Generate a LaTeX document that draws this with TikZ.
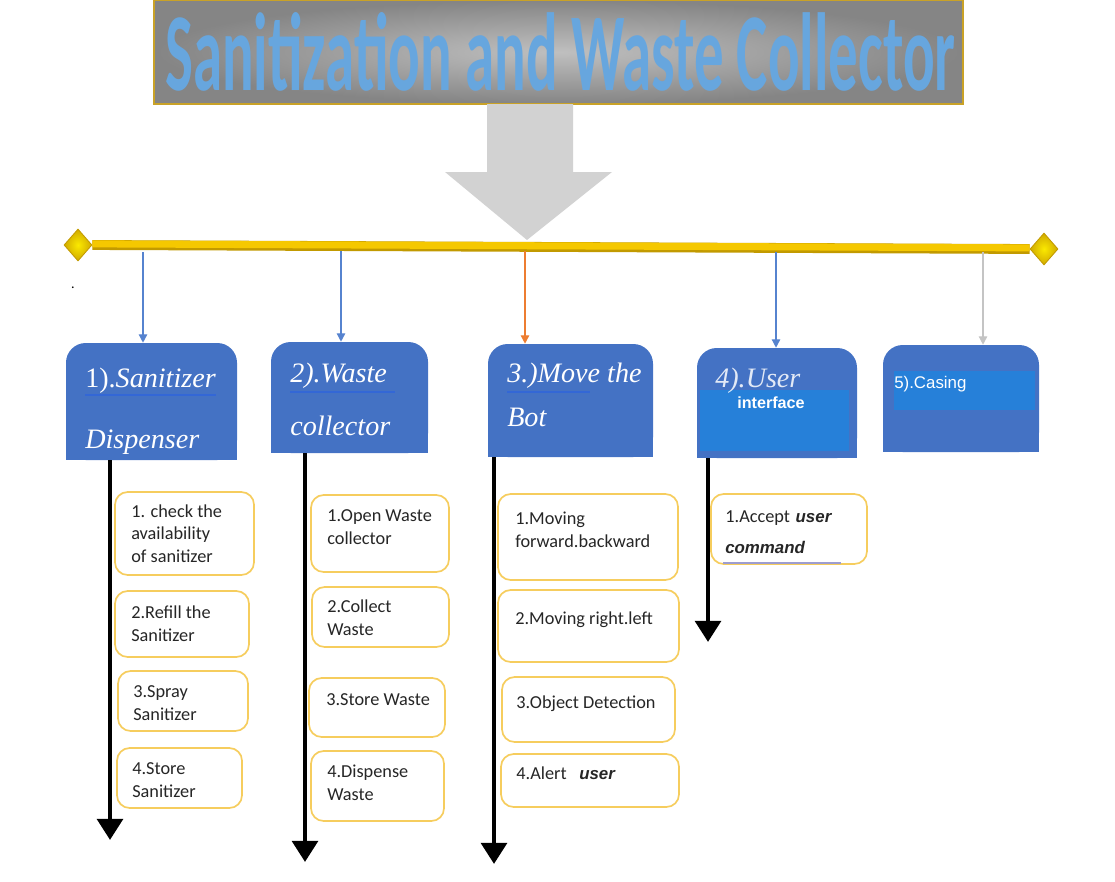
\documentclass[tikz,border=0pt]{standalone}
\usepackage{fontspec}
\usepackage{graphicx}
\setmainfont{Carlito}
\newfontfamily\boxserif{Liberation Serif}
\newfontfamily\boxsans{Liberation Sans}
\usetikzlibrary{arrows.meta,shapes.geometric,fit}
\definecolor{boxblue}{HTML}{4472C4}
\definecolor{innerblue}{HTML}{2680D9}
\definecolor{lineblue}{HTML}{3367D6}
\definecolor{itemyellow}{HTML}{F6CD5E}
\definecolor{bargold}{HTML}{F5C800}
\definecolor{bardark}{HTML}{C29A00}
\definecolor{arrowgray}{HTML}{D2D2D2}
\definecolor{titleblue}{HTML}{67A6DE}
\definecolor{feedblue}{HTML}{5683CF}
\definecolor{feedorange}{HTML}{ED7D31}
\definecolor{feedgray}{HTML}{C4C4C4}
\definecolor{itemtext}{HTML}{262626}
\newcommand{\usersans}{\boxsans\bfseries\itshape\fontsize{12}{14}\selectfont}
\tikzset{
  banner/.style={inner sep=0pt, draw={rgb,255:red,201;green,162;blue,39}, line width=1.2pt,
    inner color=black!25, outer color=black!48},
  titletext/.style={anchor=base west, inner sep=0pt, font=\bfseries\fontsize{40}{48}\selectfont},
  gem/.style={diamond, minimum width=0.7cm, minimum height=0.8cm, inner sep=0pt, draw=bardark, line width=0.6pt,
    inner color=yellow!60!bargold, outer color=bargold!85!black},
  catbox/.style={inner sep=0pt, fill=boxblue, rounded corners=14pt},
  cattext/.style={anchor=base west, inner sep=0pt, text=white, font=\boxserif\fontsize{20}{24}\selectfont},
  itembox/.style={inner sep=0pt, draw=itemyellow, line width=1.2pt, rounded corners=9pt, fill=white},
  itemlabel/.style={anchor=base west, inner sep=0pt, align=left, text=itemtext, font=\fontsize{13}{16}\selectfont},
  feed/.style={line width=1pt, -{Triangle[width=6pt,length=6pt]}},
  flow/.style={line width=3.5pt, -{Triangle[width=18pt,length=15pt]}},
}
\begin{document}
\begin{tikzpicture}[x=0.025cm,y=-0.025cm]
  \useasboundingbox (0,0) rectangle (1115,881);
  \node[banner, fit={(154,0) (963,104)}] (banner) {};
  \node[titletext, text=titleblue] (title) at (165,90) {\resizebox{19.75cm}{1.95cm}{Sanitization and Waste Collector}};
  \fill[arrowgray] (487,104) -- (573,104) -- (573,172) -- (612,172) -- (527,240) -- (445,172) -- (487,172) -- cycle;

  \node[gem] (dl) at (78,245) {};
  \node[gem] (dr) at (1044,249) {};
  \draw[line width=7pt, bardark] (dl.east) -- (dr.west);
  \draw[line width=5pt, bargold] ([yshift=0.8pt]dl.east) -- ([yshift=0.8pt]dr.west);
  \node[anchor=base, inner sep=0pt] (dot) at (73,288) {.};

  \node[catbox, fit={(66,343) (237,460)}] (b1) {};
  \node[catbox, fit={(271,342) (428,453)}] (b2) {};
  \node[catbox, fit={(488,344) (653,457)}] (b3) {};
  \node[catbox, fit={(697,348) (857,458)}] (b4) {};
  \node[catbox, fit={(883,345) (1039,452)}] (b5) {};
  \fill[boxblue] (b1.south west) rectangle (b1.east);
  \fill[boxblue] (b2.south west) rectangle (b2.east);
  \fill[boxblue] (b3.south west) rectangle (b3.east);
  \fill[boxblue] (b4.south west) rectangle (b4.east);
  \fill[boxblue] (b5.south west) rectangle (b5.east);
  \node[inner sep=0pt, fill=innerblue, fit={(700,390) (849,451)}] (b4in) {};
  \node[inner sep=0pt, fill=innerblue, fit={(894,371) (1035,410)}] (b5in) {};

  \coordinate (f1) at (143,252);
  \coordinate (f2) at (341,251);
  \coordinate (f3) at (525,251);
  \coordinate (f4) at (776,252);
  \coordinate (f5) at (983,252);
  \draw[feed, feedblue] (f1) -- (f1 |- b1.north);
  \draw[feed, feedblue] (f2) -- (f2 |- b2.north);
  \draw[feed, feedorange] (f3) -- (f3 |- b3.north);
  \draw[feed, feedblue] (f4) -- (f4 |- b4.north);
  \draw[feed, feedgray] (f5) -- (f5 |- b5.north);

  \node[cattext] (t1a) at (85,387) {1).\textit{Sanitizer}};
  \node[cattext] (t1b) at (85,448) {\textit{Dispenser}};
  \node[cattext] (t2a) at (290,382) {\textit{2).Waste}};
  \node[cattext] (t2b) at (290,435) {\textit{collector}};
  \node[cattext] (t3a) at (507,382) {\textit{3.)Move the}};
  \node[cattext] (t3b) at (507,426) {\textit{Bot}};
  \node[cattext, text opacity=0.85] (t4a) at (715,387) {\textit{4).User}};
  \node[anchor=west, inner sep=0pt, text=white, font=\boxsans\bfseries\fontsize{11.5}{13}\selectfont] (t4b) at (737,403) {interface};
  \node[anchor=west, inner sep=0pt, text=white, font=\boxsans\fontsize{12}{14}\selectfont] (t5a) at (894,384) {5).Casing};
  \draw[lineblue, line width=1.8pt] (85,395) -- (216,395);
  \draw[lineblue, line width=1.8pt] (290,392) -- (395,392);
  \draw[lineblue, line width=1.8pt] (507,392) -- (590,392);

  \coordinate (e1) at (110,840);
  \coordinate (e2) at (305,862);
  \coordinate (e3) at (494,864);
  \coordinate (e4) at (708,642);
  \draw[flow] (b1.south -| e1) -- (e1);
  \draw[flow] (b2.south -| e2) -- (e2);
  \draw[flow] (b3.south -| e3) -- (e3);
  \draw[flow] (b4.south -| e4) -- (e4);

  \node[itembox, fit={(115,492) (254,575)}] (s11) {};
  \node[itembox, fit={(115,591) (249,657)}] (s12) {};
  \node[itembox, fit={(118,671) (248,731)}] (s13) {};
  \node[itembox, fit={(117,748) (242,808)}] (s14) {};
  \node[itembox, fit={(311,495) (449,572)}] (s21) {};
  \node[itembox, fit={(312,587) (449,647)}] (s22) {};
  \node[itembox, fit={(309,678) (445,737)}] (s23) {};
  \node[itembox, fit={(311,751) (444,821)}] (s24) {};
  \node[itembox, fit={(498,494) (678,580)}] (s31) {};
  \node[itembox, fit={(498,590) (679,662)}] (s32) {};
  \node[itembox, fit={(502,677) (675,742)}] (s33) {};
  \node[itembox, fit={(501,754) (679,807)}] (s34) {};
  \node[itembox, fit={(711,494) (867,564)}] (s41) {};
  \draw[feedgray!80!blue, line width=0.8pt] (723,563) -- (841,563);

  \node[itemlabel] (l11) at (131,562) {1. check the\\availability\\of sanitizer};
  \node[itemlabel] (l12) at (131,641) {2.Refill the\\Sanitizer};
  \node[itemlabel] (l13) at (133,720) {3.Spray\\Sanitizer};
  \node[itemlabel] (l14) at (132,797) {4.Store\\Sanitizer};
  \node[itemlabel] (l21) at (327,544) {1.Open Waste\\collector};
  \node[itemlabel] (l22) at (327,635) {2.Collect\\Waste};
  \node[itemlabel] (l23) at (326,705) {3.Store Waste};
  \node[itemlabel] (l24) at (327,800) {4.Dispense\\Waste};
  \node[itemlabel] (l31) at (515,547) {1.Moving\\forward.backward};
  \node[itemlabel] (l32) at (515,624) {2.Moving right.left};
  \node[itemlabel] (l33) at (516,708) {3.Object Detection};
  \node[itemlabel] (l34) at (516,779) {4.Alert\hspace{9pt}{\usersans user}};
  \node[itemlabel] (l41) at (725,553) {1.Accept\hspace{4pt}{\usersans user}\\[6pt]{\usersans command}};
\end{tikzpicture}
\end{document}
